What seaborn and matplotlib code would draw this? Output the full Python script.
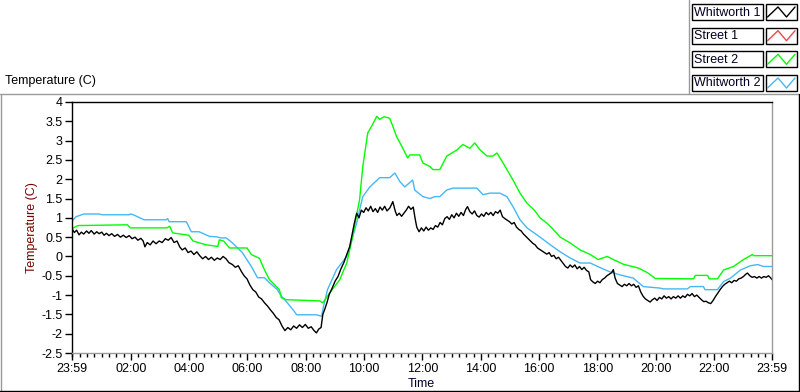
import matplotlib
matplotlib.use("Agg")
import matplotlib.pyplot as plt
import seaborn as sns
import pandas as pd
from matplotlib.lines import Line2D
from matplotlib.patches import Rectangle

# ---------------- data (time in hours after the 23:59 start) ----------------
series_names = ["Whitworth 1", "Street 1", "Street 2", "Whitworth 2"]
series_colors = ["#000000", "#f04848", "#00ff00", "#44b8f5"]

x_tick_labels = ["23:59", "02:00", "04:00", "06:00", "08:00", "10:00", "12:00",
                 "14:00", "16:00", "18:00", "20:00", "22:00", "23:59"]
y_tick_values = [-2.5, -2, -1.5, -1, -0.5, 0, 0.5, 1, 1.5, 2, 2.5, 3, 3.5, 4]
y_tick_labels = ["-2.5", "-2", "-1.5", "-1", "-0.5", "0", "0.5", "1", "1.5",
                 "2", "2.5", "3", "3.5", "4"]

street2_t = [0.00, 0.20, 1.90, 2.00, 3.25, 3.35, 3.45, 4.00, 4.15, 4.60, 5.00, 5.05,
             5.20, 5.40, 6.00, 6.15, 6.43, 6.60, 6.77, 7.11, 7.18, 7.35, 8.49, 8.60,
             8.83, 9.18, 9.42, 9.62, 9.79, 9.86, 9.97, 10.14, 10.27, 10.45, 10.55,
             10.70, 10.89, 11.00, 11.13, 11.31, 11.51, 11.58, 11.92, 12.03, 12.27,
             12.37, 12.61, 12.85, 13.20, 13.40, 13.64, 13.81, 13.99, 14.23, 14.43,
             14.57, 14.78, 15.12, 15.36, 15.60, 15.85, 16.05, 16.30, 16.50, 16.74,
             17.08, 17.42, 17.77, 18.04, 18.35, 18.56, 18.90, 19.42, 19.73, 20.00,
             21.31, 21.37, 21.79, 21.85, 22.13, 22.34, 22.68, 23.02, 23.33, 23.37,
             24.00]
street2_v = [0.72, 0.80, 0.82, 0.74, 0.74, 0.78, 0.61, 0.55, 0.40, 0.30, 0.26, 0.43,
             0.40, 0.22, 0.22, 0.05, -0.05, -0.35, -0.60, -0.86, -1.07, -1.12, -1.15,
             -1.20, -0.95, -0.60, -0.17, 0.50, 1.20, 1.47, 2.33, 3.20, 3.37, 3.63, 3.55,
             3.62, 3.58, 3.37, 3.10, 2.85, 2.55, 2.63, 2.63, 2.42, 2.33,
             2.25, 2.25, 2.60, 2.76, 2.90, 2.80, 2.94, 2.76, 2.60, 2.60,
             2.68, 2.42, 1.98, 1.64, 1.38, 1.20, 1.00, 0.85, 0.70, 0.50,
             0.35, 0.17, 0.05, -0.08, 0.00, -0.08, -0.20, -0.30, -0.42, -0.57,
             -0.58, -0.49, -0.49, -0.58, -0.58, -0.35, -0.26, -0.08, 0.05, 0.02,
             0.02]

whitworth2_t = [0.00, 0.14, 0.41, 0.93, 1.03, 1.96, 2.00, 2.10, 2.47, 3.23, 3.28, 3.33,
                3.92, 4.09, 4.36, 4.71, 4.95, 5.10, 5.29, 5.50, 5.84, 6.15, 6.36, 6.60,
                6.77, 7.04, 7.18, 7.35, 7.63, 7.70, 8.38, 8.56, 8.62, 8.76, 9.07, 9.42,
                9.62, 9.76, 9.86, 9.97, 10.21, 10.55, 10.89, 11.07, 11.24, 11.41, 11.68,
                11.75, 12.03, 12.27, 12.44, 12.61, 12.85, 13.06, 13.88, 14.09, 14.33,
                14.67, 14.91, 15.12, 15.36, 15.60, 16.05, 16.40, 16.74, 17.08, 17.42,
                17.77, 18.11, 18.45, 18.80, 19.24, 19.59, 20.17, 20.27, 21.10, 21.20,
                21.65, 21.70, 22.13, 22.34, 22.58, 22.92, 23.26, 23.51, 23.71, 24.00]
whitworth2_v = [0.92, 1.03, 1.10, 1.10, 1.08, 1.08, 1.10, 1.08, 0.95, 0.95, 0.98, 0.90,
                0.90, 0.64, 0.64, 0.52, 0.51, 0.48, 0.48, 0.35, 0.10, -0.26, -0.55, -0.55,
                -0.68, -0.86, -1.03, -1.17, -1.43, -1.51, -1.51, -1.55, -1.30, -0.86, -0.34, 0.00,
                0.50, 0.86, 1.20, 1.55, 1.80, 2.04, 2.04, 2.16, 1.94, 1.80, 1.98,
                1.72, 1.55, 1.50, 1.55, 1.55, 1.72, 1.77, 1.77, 1.60, 1.64,
                1.64, 1.55, 1.29, 0.95, 0.74, 0.50, 0.30, 0.12, -0.04, -0.17,
                -0.17, -0.29, -0.40, -0.48, -0.56, -0.78, -0.82, -0.84, -0.84, -0.78,
                -0.78, -0.86, -0.86, -0.65, -0.56, -0.35, -0.24, -0.21, -0.26, -0.26]

whitworth1_t = [0.00, 0.08, 0.16, 0.24, 0.32, 0.40, 0.50, 0.58, 0.66, 0.76, 0.85, 0.93,
                1.02, 1.10, 1.18, 1.27, 1.36, 1.46, 1.56, 1.66, 1.76, 1.86, 1.96, 2.06,
                2.16, 2.26, 2.36, 2.44, 2.50, 2.58, 2.68, 2.78, 2.88, 2.99, 3.09, 3.20,
                3.30, 3.40, 3.50, 3.60, 3.70, 3.78, 3.88, 3.98, 4.08, 4.18, 4.28, 4.38,
                4.48, 4.58, 4.68, 4.78, 4.88, 4.98, 5.08, 5.18, 5.28, 5.38, 5.50, 5.60,
                5.70, 5.80, 5.90, 6.00, 6.10, 6.20, 6.30, 6.40, 6.50, 6.60, 6.70, 6.80,
                6.90, 7.00, 7.10, 7.20, 7.30, 7.40, 7.50, 7.60, 7.70, 7.80, 7.90, 8.00,
                8.10, 8.20, 8.30, 8.38, 8.46, 8.54, 8.60, 8.66, 8.74, 8.82, 8.92, 9.02,
                9.12, 9.22, 9.32, 9.42, 9.52, 9.60, 9.68, 9.76, 9.84, 9.92, 10.00, 10.08,
                10.16, 10.24, 10.32, 10.40, 10.48, 10.56, 10.64, 10.72, 10.80, 10.90,
                11.00, 11.08, 11.14, 11.22, 11.30, 11.38, 11.46, 11.54, 11.62, 11.70,
                11.76, 11.82, 11.90, 11.98, 12.06, 12.14, 12.22, 12.30, 12.38, 12.46,
                12.54, 12.62, 12.70, 12.78, 12.86, 12.94, 13.02, 13.10, 13.18, 13.26,
                13.34, 13.42, 13.50, 13.56, 13.64, 13.72, 13.80, 13.88, 13.96, 14.04,
                14.12, 14.20, 14.28, 14.36, 14.44, 14.52, 14.60, 14.68, 14.76, 14.84,
                14.92, 15.00, 15.08, 15.16, 15.24, 15.32, 15.40, 15.48, 15.56, 15.64,
                15.72, 15.80, 15.88, 15.96, 16.04, 16.12, 16.20, 16.28, 16.36, 16.44,
                16.52, 16.60, 16.68, 16.76, 16.84, 16.92, 17.00, 17.08, 17.16, 17.24,
                17.32, 17.40, 17.48, 17.56, 17.64, 17.72, 17.78, 17.86, 17.94, 18.02,
                18.10, 18.18, 18.26, 18.34, 18.42, 18.50, 18.56, 18.62, 18.70, 18.78,
                18.86, 18.94, 19.02, 19.10, 19.18, 19.26, 19.34, 19.42, 19.50, 19.58,
                19.66, 19.74, 19.82, 19.90, 19.98, 20.06, 20.14, 20.22, 20.30, 20.38,
                20.46, 20.54, 20.62, 20.70, 20.78, 20.86, 20.94, 21.02, 21.10, 21.18,
                21.26, 21.34, 21.42, 21.50, 21.58, 21.66, 21.74, 21.82, 21.90, 21.98,
                22.06, 22.14, 22.22, 22.30, 22.38, 22.46, 22.54, 22.62, 22.70, 22.78,
                22.86, 22.94, 23.02, 23.10, 23.16, 23.24, 23.32, 23.40, 23.48, 23.56,
                23.64, 23.72, 23.80, 23.88, 23.96, 24.00]
whitworth1_v = [0.72, 0.62, 0.68, 0.56, 0.63, 0.58, 0.66, 0.60, 0.67, 0.58, 0.64, 0.59,
                0.63, 0.55, 0.60, 0.54, 0.59, 0.52, 0.57, 0.50, 0.55, 0.49, 0.54, 0.46,
                0.50, 0.42, 0.47, 0.40, 0.25, 0.36, 0.30, 0.40, 0.33, 0.40, 0.36, 0.46,
                0.42, 0.49, 0.36, 0.40, 0.24, 0.17, 0.22, 0.10, 0.14, 0.05, 0.12, 0.02,
                -0.06, 0.00, -0.08, -0.02, -0.10, -0.04, -0.08, 0.00, -0.06, -0.16, -0.21, -0.28,
                -0.24, -0.38, -0.50, -0.58, -0.74, -0.86, -0.92, -1.05, -1.10, -1.20, -1.28, -1.38,
                -1.47, -1.58, -1.64, -1.80, -1.92, -1.84, -1.90, -1.80, -1.86, -1.77, -1.84, -1.76,
                -1.86, -1.82, -1.92, -1.98, -1.88, -1.84, -1.50, -1.38, -1.20, -0.98, -0.82, -0.64,
                -0.52, -0.32, -0.16, 0.05, 0.25, 0.55, 0.86, 1.12, 1.00, 1.20, 1.14, 1.26,
                1.18, 1.30, 1.16, 1.24, 1.14, 1.28, 1.20, 1.30, 1.18, 1.26,
                1.42, 1.18, 1.06, 1.12, 1.04, 1.12, 1.20, 1.30, 1.22, 1.28,
                1.00, 0.76, 0.64, 0.74, 0.66, 0.76, 0.68, 0.74, 0.70, 0.80,
                0.76, 0.88, 0.82, 0.98, 1.03, 0.96, 1.08, 1.00, 1.12, 1.04,
                1.14, 1.06, 1.22, 1.29, 1.16, 1.10, 1.18, 1.06, 1.02, 1.10,
                1.04, 1.14, 1.08, 1.14, 1.06, 1.16, 1.12, 1.20, 1.03, 0.98,
                0.94, 0.90, 0.84, 0.88, 0.76, 0.70, 0.66, 0.58, 0.52, 0.46,
                0.40, 0.34, 0.30, 0.22, 0.18, 0.14, 0.10, 0.06, 0.10, 0.00,
                0.03, -0.06, -0.02, -0.10, -0.18, -0.26, -0.30, -0.22, -0.28, -0.22,
                -0.32, -0.26, -0.34, -0.28, -0.36, -0.40, -0.60, -0.66, -0.70, -0.64,
                -0.68, -0.60, -0.56, -0.50, -0.46, -0.42, -0.34, -0.56, -0.70, -0.74,
                -0.78, -0.72, -0.76, -0.70, -0.76, -0.72, -0.80, -0.76, -0.92, -1.03,
                -1.10, -1.14, -1.18, -1.12, -1.08, -1.14, -1.06, -1.10, -1.02, -1.08,
                -1.04, -1.10, -1.04, -1.08, -1.02, -1.08, -1.02, -1.06, -0.98, -1.02,
                -0.96, -1.04, -1.00, -1.06, -1.12, -1.17, -1.16, -1.20, -1.22, -1.14,
                -1.04, -0.95, -0.86, -0.78, -0.72, -0.68, -0.64, -0.68, -0.62, -0.64,
                -0.58, -0.56, -0.52, -0.46, -0.43, -0.50, -0.54, -0.52, -0.56, -0.52,
                -0.56, -0.52, -0.54, -0.50, -0.56, -0.60]

# ---------------- figure ----------------
sns.set_style("white")
plt.rcParams["font.family"] = ["Liberation Sans", "DejaVu Sans"]
plt.rcParams["font.size"] = 9

W, H = 800, 392
fig = plt.figure(figsize=(W / 100, H / 100), dpi=100)
fig.patch.set_facecolor("white")


def fx(x):
    return x / W


def fy(y):
    return 1 - y / H


L, R, T, B = 72, 772, 102, 353
ax = fig.add_axes([fx(L), fy(B), (R - L) / W, (B - T) / H])
ax.set_facecolor("white")

df_w2 = pd.DataFrame({"hours": whitworth2_t, "temp": whitworth2_v})
df_s2 = pd.DataFrame({"hours": street2_t, "temp": street2_v})
df_w1 = pd.DataFrame({"hours": whitworth1_t, "temp": whitworth1_v})

sns.lineplot(data=df_w2, x="hours", y="temp", ax=ax, color=series_colors[3],
             linewidth=1.0, estimator=None)
sns.lineplot(data=df_s2, x="hours", y="temp", ax=ax, color=series_colors[2],
             linewidth=1.0, estimator=None)
sns.lineplot(data=df_w1, x="hours", y="temp", ax=ax, color=series_colors[0],
             linewidth=1.0, estimator=None)

ax.set_xlim(0, 24)
ax.set_ylim(-2.5, 4)
ax.set_xlabel("")
ax.set_ylabel("")

major_x = [0] + [2 * k + 1 / 60 for k in range(1, 12)] + [24]
ax.set_xticks(major_x)
ax.set_xticklabels(x_tick_labels)
minor_x = [1 / 60 + 0.25 * k for k in range(0, 96) if not (k % 8 == 0 and k > 0)]
ax.set_xticks(minor_x, minor=True)
ax.set_yticks(y_tick_values)
ax.set_yticklabels(y_tick_labels)

ax.tick_params(axis="x", which="major", bottom=True, length=5, width=1,
               direction="out", pad=2, colors="black", labelsize=9)
ax.tick_params(axis="x", which="minor", bottom=True, length=3, width=1,
               direction="out", colors="black")
ax.tick_params(axis="y", which="major", left=True, length=5, width=1,
               direction="out", pad=2, colors="black", labelsize=9)

for side in ["left", "top"]:
    ax.spines[side].set_color("black")
    ax.spines[side].set_linewidth(1)
for side in ["right", "bottom"]:
    ax.spines[side].set_color("#9a9a9a")
    ax.spines[side].set_linewidth(1)
    ax.spines[side].set_visible(True)

# axis titles
fig.text(fx(32), fy(228), "Temperature (C)", rotation=90, ha="center", va="center",
         color="#7a0000", fontsize=9)
fig.text(fx(421), fy(384), "Time", ha="center", va="center", color="#000030",
         fontsize=9)
fig.text(fx(5), fy(81), "Temperature (C)", ha="left", va="center", color="black",
         fontsize=9)

# outer panel frame
def hline(x0, x1, y, color):
    fig.add_artist(Line2D([fx(x0), fx(x1)], [fy(y), fy(y)], color=color, lw=1,
                          transform=fig.transFigure))


def vline(x, y0, y1, color):
    fig.add_artist(Line2D([fx(x), fx(x)], [fy(y0), fy(y1)], color=color, lw=1,
                          transform=fig.transFigure))


hline(0, 799, 94, "#9a9a9a")
vline(0.5, 94, 391, "#9a9a9a")
hline(0, 799, 391, "black")
vline(798.5, 94, 391, "black")
vline(689, 0, 94, "#9a9a9a")

# legend
row_tops = [4, 27.7, 51.3, 75]
for name, color, top in zip(series_names, series_colors, row_tops):
    fig.add_artist(Rectangle((fx(692), fy(top + 16)), 71 / W, 16 / H,
                             transform=fig.transFigure, facecolor="white",
                             edgecolor="black", lw=1))
    fig.text(fx(694.5), fy(top + 8.5), name, ha="left", va="center",
             color="#000020", fontsize=9)
    fig.add_artist(Rectangle((fx(766), fy(top + 16)), 31 / W, 16 / H,
                             transform=fig.transFigure, facecolor="white",
                             edgecolor="black", lw=1))
    zx = [767.5, 778, 786.5, 795]
    zy = [top + 13, top + 3, top + 13, top + 3]
    fig.add_artist(Line2D([fx(v) for v in zx], [fy(v) for v in zy], color=color,
                          lw=1, transform=fig.transFigure))

fig.savefig("out.png", dpi=100, facecolor="white")
